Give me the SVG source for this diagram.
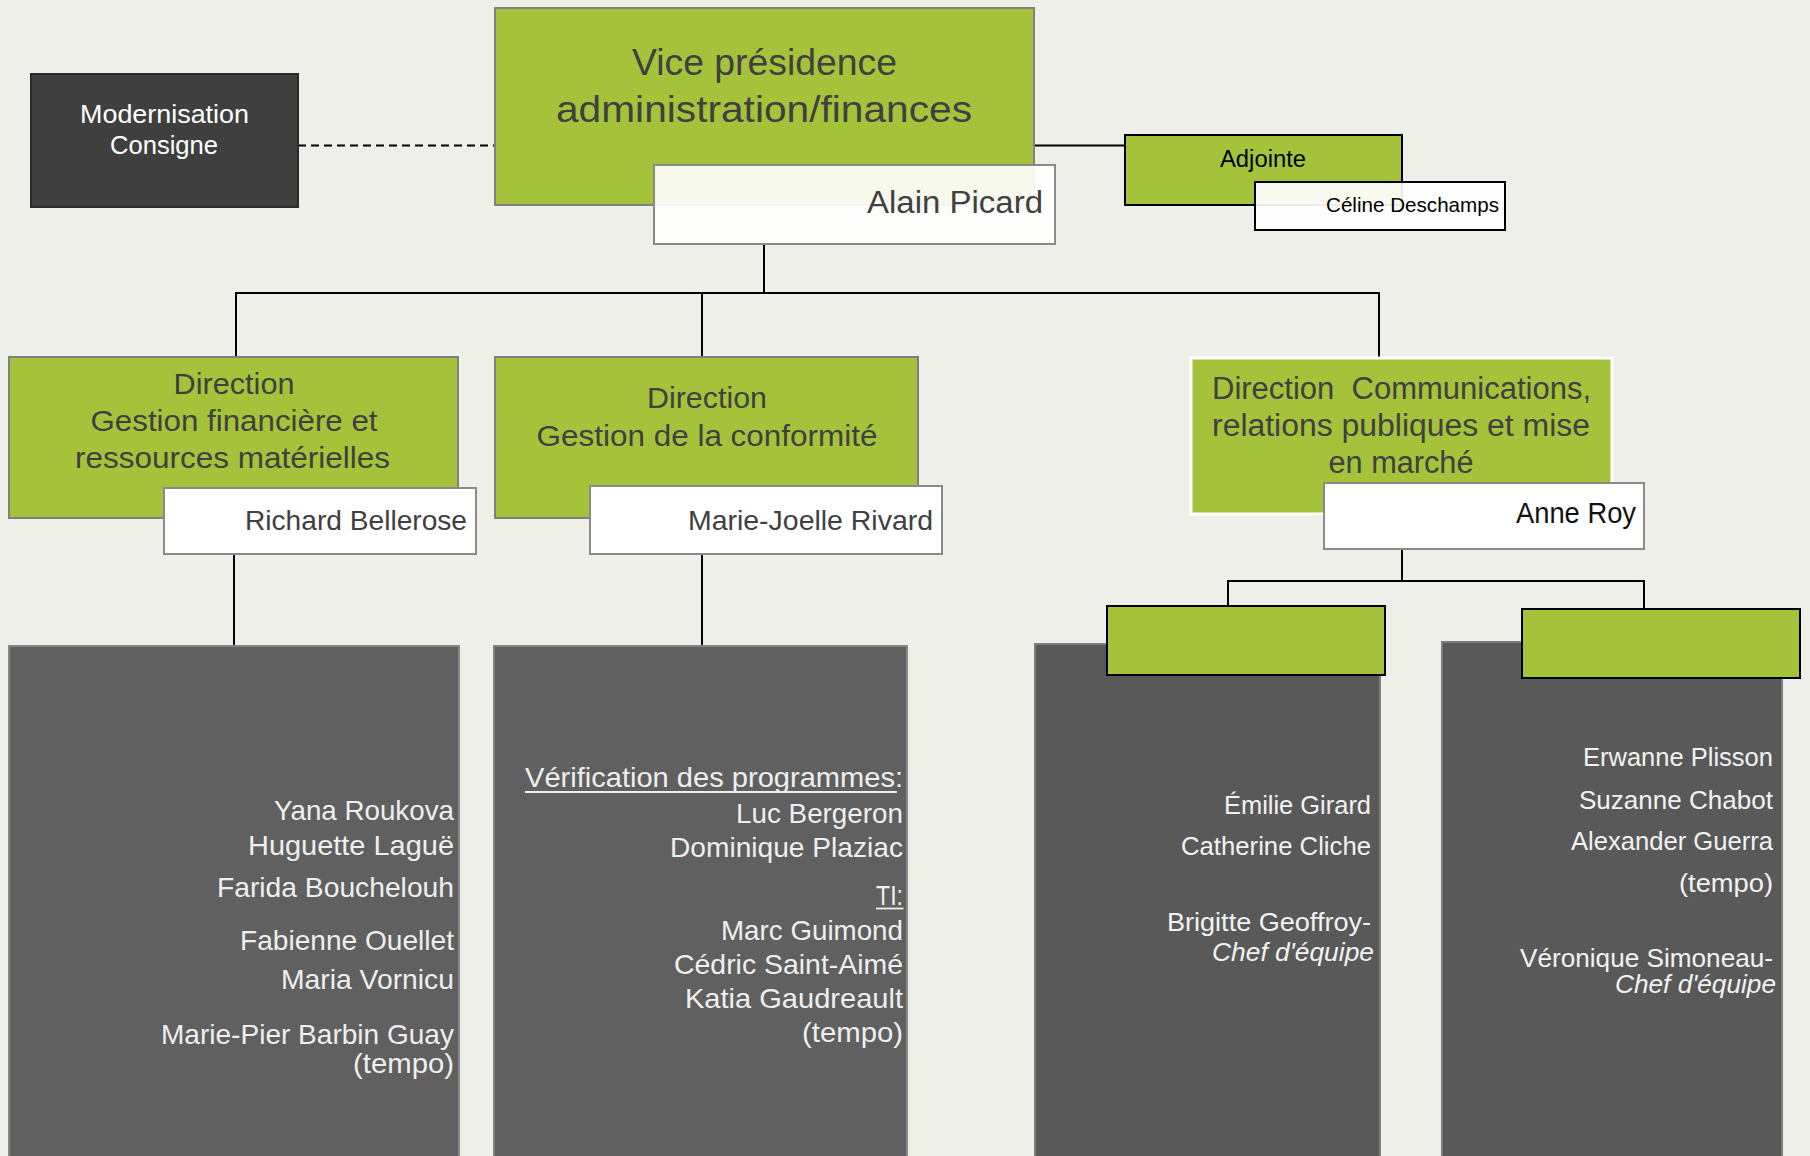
<svg xmlns="http://www.w3.org/2000/svg" width="1810" height="1156" viewBox="0 0 1810 1156">
<style>
.c{font-family:"Liberation Sans Narrow","Liberation Sans",sans-serif}
.w{font-family:"Liberation Sans",Arial,sans-serif;font-size:28px;fill:#efefef;text-anchor:end}
.n{font-family:"Liberation Sans Narrow","Liberation Sans",sans-serif;font-size:26px;fill:#f2f2f2;text-anchor:end}
.dk{fill:#404040}
.green{fill:#a5c33a}
.ln{stroke:#000;stroke-width:2;fill:none}
</style>
<rect width="1810" height="1156" fill="#efefea"/>

<g id="connectors">
  <line class="ln" x1="298" y1="145.5" x2="495" y2="145.5" stroke-dasharray="8,5"/>
  <line class="ln" x1="1034" y1="145.5" x2="1125" y2="145.5"/>
  <line class="ln" x1="764" y1="244" x2="764" y2="293"/>
  <line class="ln" x1="235" y1="293" x2="1380" y2="293" stroke-width="2.5"/>
  <line class="ln" x1="236" y1="293" x2="236" y2="357"/>
  <line class="ln" x1="702" y1="293" x2="702" y2="357"/>
  <line class="ln" x1="1379" y1="293" x2="1379" y2="357"/>
  <line class="ln" x1="234" y1="554" x2="234" y2="646"/>
  <line class="ln" x1="702" y1="554" x2="702" y2="646"/>
  <line class="ln" x1="1402" y1="549" x2="1402" y2="581"/>
  <line class="ln" x1="1227" y1="581" x2="1645" y2="581" stroke-width="2.5"/>
  <line class="ln" x1="1228" y1="581" x2="1228" y2="606"/>
  <line class="ln" x1="1644" y1="581" x2="1644" y2="609"/>
</g>

<g id="modernisation">
  <rect x="31" y="74" width="267" height="133" fill="#3f3f3f" stroke="#2a2a2a" stroke-width="2"/>
  <text class="c" x="164.5" y="122.5" font-size="26" fill="#fff" text-anchor="middle" textLength="169" lengthAdjust="spacingAndGlyphs">Modernisation</text>
  <text class="c" x="164" y="154" font-size="26" fill="#fff" text-anchor="middle" textLength="108" lengthAdjust="spacingAndGlyphs">Consigne</text>
</g>

<g id="vp">
  <rect x="495" y="8" width="539" height="197" class="green" stroke="#808080" stroke-width="2"/>
  <text class="c dk" x="764.5" y="75" font-size="36" text-anchor="middle" textLength="265" lengthAdjust="spacingAndGlyphs">Vice présidence</text>
  <text class="c dk" x="764" y="122" font-size="36" text-anchor="middle" textLength="416" lengthAdjust="spacingAndGlyphs">administration/finances</text>
</g>
<g id="alain-picard">
  <rect x="654" y="165" width="401" height="79" fill="#fff" fill-opacity="0.9" stroke="#8a8a8a" stroke-width="2"/>
  <text class="c dk" x="1043" y="213" font-size="31" text-anchor="end" textLength="176" lengthAdjust="spacingAndGlyphs">Alain Picard</text>
</g>

<g id="adjointe">
  <rect x="1125" y="135" width="277" height="70" class="green" stroke="#000" stroke-width="2"/>
  <text class="c" x="1263" y="166.5" font-size="23" fill="#000" text-anchor="middle" textLength="86" lengthAdjust="spacingAndGlyphs">Adjointe</text>
</g>
<g id="celine-deschamps">
  <rect x="1255" y="182" width="250" height="48" fill="#fff" fill-opacity="0.92" stroke="#000" stroke-width="2"/>
  <text class="c" x="1499" y="211.5" font-size="21" fill="#000" text-anchor="end" textLength="173" lengthAdjust="spacingAndGlyphs">Céline Deschamps</text>
</g>

<g id="dir-finances">
  <rect x="9" y="357" width="449" height="161" class="green" stroke="#808080" stroke-width="2"/>
  <text class="c dk" x="234" y="394" font-size="30" text-anchor="middle" textLength="121" lengthAdjust="spacingAndGlyphs">Direction</text>
  <text class="c dk" x="234" y="431" font-size="30" text-anchor="middle" textLength="287" lengthAdjust="spacingAndGlyphs">Gestion financière et</text>
  <text class="c dk" x="232.5" y="468" font-size="30" text-anchor="middle" textLength="315" lengthAdjust="spacingAndGlyphs">ressources matérielles</text>
</g>
<g id="richard-bellerose">
  <rect x="164" y="488" width="312" height="66" fill="#fff" stroke="#8a8a8a" stroke-width="2"/>
  <text class="c dk" x="467" y="530" font-size="28" text-anchor="end" textLength="222" lengthAdjust="spacingAndGlyphs">Richard Bellerose</text>
</g>

<g id="dir-conformite">
  <rect x="495" y="357" width="423" height="161" class="green" stroke="#808080" stroke-width="2"/>
  <text class="c dk" x="707" y="408" font-size="30" text-anchor="middle" textLength="120" lengthAdjust="spacingAndGlyphs">Direction</text>
  <text class="c dk" x="707" y="445.5" font-size="30" text-anchor="middle" textLength="341" lengthAdjust="spacingAndGlyphs">Gestion de la conformité</text>
</g>
<g id="marie-joelle-rivard">
  <rect x="590" y="486" width="352" height="68" fill="#fff" stroke="#8a8a8a" stroke-width="2"/>
  <text class="c dk" x="933" y="530" font-size="28" text-anchor="end" textLength="245" lengthAdjust="spacingAndGlyphs">Marie-Joelle Rivard</text>
</g>

<g id="dir-communications">
  <rect x="1191" y="358" width="421" height="156" class="green" stroke="#fff" stroke-width="3"/>
  <text class="c dk" x="1401.5" y="399" font-size="31" text-anchor="middle" textLength="379" lengthAdjust="spacingAndGlyphs" xml:space="preserve">Direction  Communications,</text>
  <text class="c dk" x="1401" y="436" font-size="31" text-anchor="middle" textLength="378" lengthAdjust="spacingAndGlyphs">relations publiques et mise</text>
  <text class="c dk" x="1401" y="473" font-size="31" text-anchor="middle" textLength="145" lengthAdjust="spacingAndGlyphs">en marché</text>
</g>
<g id="anne-roy">
  <rect x="1324" y="483" width="320" height="66" fill="#fff" stroke="#8a8a8a" stroke-width="2"/>
  <text class="c" x="1636" y="523" font-size="29" fill="#111" text-anchor="end" textLength="120" lengthAdjust="spacingAndGlyphs">Anne Roy</text>
</g>

<g id="equipe-finances">
  <rect x="9" y="646" width="450" height="520" fill="#606060" stroke="#858585" stroke-width="2"/>
  <text class="w" x="454" y="820" textLength="180" lengthAdjust="spacingAndGlyphs">Yana Roukova</text>
  <text class="w" x="454" y="855" textLength="206" lengthAdjust="spacingAndGlyphs">Huguette Laguë</text>
  <text class="w" x="454" y="896.5" textLength="237" lengthAdjust="spacingAndGlyphs">Farida Bouchelouh</text>
  <text class="w" x="454" y="950" textLength="214" lengthAdjust="spacingAndGlyphs">Fabienne Ouellet</text>
  <text class="w" x="454" y="989" textLength="173" lengthAdjust="spacingAndGlyphs">Maria Vornicu</text>
  <text class="w" x="454" y="1044" textLength="293" lengthAdjust="spacingAndGlyphs">Marie-Pier Barbin Guay</text>
  <text class="w" x="454" y="1073" textLength="101" lengthAdjust="spacingAndGlyphs">(tempo)</text>
</g>

<g id="equipe-conformite">
  <rect x="494" y="646" width="413" height="520" fill="#606060" stroke="#858585" stroke-width="2"/>
  <text class="w" x="903" y="786.5" textLength="378" lengthAdjust="spacingAndGlyphs">Vérification des programmes:</text>
  <line x1="525" y1="792" x2="897" y2="792" stroke="#efefef" stroke-width="1.8"/>
  <text class="w" x="903" y="822.5" textLength="167" lengthAdjust="spacingAndGlyphs">Luc Bergeron</text>
  <text class="w" x="903" y="856.5" textLength="233" lengthAdjust="spacingAndGlyphs">Dominique Plaziac</text>
  <text class="w" x="903" y="905" textLength="27" lengthAdjust="spacingAndGlyphs">TI:</text>
  <line x1="876" y1="908.5" x2="903.5" y2="908.5" stroke="#efefef" stroke-width="1.8"/>
  <text class="w" x="903" y="940" textLength="182" lengthAdjust="spacingAndGlyphs">Marc Guimond</text>
  <text class="w" x="903" y="973.5" textLength="229" lengthAdjust="spacingAndGlyphs">Cédric Saint-Aimé</text>
  <text class="w" x="903" y="1008" textLength="218" lengthAdjust="spacingAndGlyphs">Katia Gaudreault</text>
  <text class="w" x="903" y="1042" textLength="101" lengthAdjust="spacingAndGlyphs">(tempo)</text>
</g>

<g id="equipe-comm-1">
  <rect x="1035" y="644" width="345" height="520" fill="#595959" stroke="#7d7d7d" stroke-width="2"/>
  <text class="n" x="1371" y="814" textLength="147" lengthAdjust="spacingAndGlyphs">Émilie Girard</text>
  <text class="n" x="1371" y="855" textLength="190" lengthAdjust="spacingAndGlyphs">Catherine Cliche</text>
  <text class="n" x="1371" y="930.5" textLength="204" lengthAdjust="spacingAndGlyphs">Brigitte Geoffroy-</text>
  <text class="n" x="1374" y="961" font-style="italic" textLength="162" lengthAdjust="spacingAndGlyphs">Chef d'équipe</text>
</g>
<g id="equipe-comm-1-titre">
  <rect x="1107" y="606" width="278" height="69" class="green" stroke="#000" stroke-width="2"/>
</g>

<g id="equipe-comm-2">
  <rect x="1442" y="642" width="340" height="522" fill="#595959" stroke="#7d7d7d" stroke-width="2"/>
  <text class="n" x="1773" y="766" textLength="190" lengthAdjust="spacingAndGlyphs">Erwanne Plisson</text>
  <text class="n" x="1773" y="809" textLength="194" lengthAdjust="spacingAndGlyphs">Suzanne Chabot</text>
  <text class="n" x="1773" y="850" textLength="202" lengthAdjust="spacingAndGlyphs">Alexander Guerra</text>
  <text class="n" x="1773" y="892" textLength="94" lengthAdjust="spacingAndGlyphs">(tempo)</text>
  <text class="n" x="1773" y="966.5" textLength="253" lengthAdjust="spacingAndGlyphs">Véronique Simoneau-</text>
  <text class="n" x="1776" y="993" font-style="italic" textLength="161" lengthAdjust="spacingAndGlyphs">Chef d'équipe</text>
</g>
<g id="equipe-comm-2-titre">
  <rect x="1522" y="609" width="278" height="69" class="green" stroke="#000" stroke-width="2"/>
</g>
</svg>
